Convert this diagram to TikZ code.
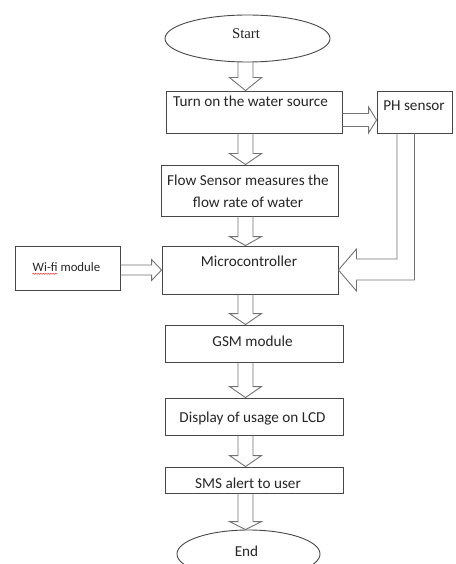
\documentclass[tikz,border=0pt]{standalone}
\usepackage{fontspec}
\setmainfont{Carlito}
\newfontfamily\serifface{Liberation Serif}
\usetikzlibrary{shapes.geometric,calc,decorations.pathmorphing}

% downward block arrow between two nodes, along the x of coordinate (ax)
% #1 = head length, #2 = source node, #3 = target node
\newcommand\downblock[3][11]{%
  \draw[blk] ($(#2.south -| ax)+(-7.5,0)$) -- ($(#3.north -| ax)+(-7.5,-#1)$)
    -- ($(#3.north -| ax)+(-16,-#1)$) -- (#3.north -| ax)
    -- ($(#3.north -| ax)+(16,-#1)$) -- ($(#3.north -| ax)+(7.5,-#1)$)
    -- ($(#2.south -| ax)+(7.5,0)$);}

\begin{document}
\begin{tikzpicture}[x=1pt,y=-1pt,
  box/.style={draw=black!72, line width=0.9pt, rectangle, inner sep=0},
  oval/.style={draw=black!72, line width=0.9pt, ellipse, inner sep=0},
  lbl/.style={anchor=base, inner sep=0, font=\fontsize{15.2}{18}\selectfont, text=black!85},
  blk/.style={draw=black!55, line width=0.9pt, line join=miter}]
\clip (0,0) rectangle (455,564);
\fill[white] (0,0) rectangle (455,564);

% axis of the main column of arrows
\coordinate (ax) at (245.5,0);
\coordinate (phy) at (0,120);
\coordinate (wfy) at (0,270);

% shapes
\node[oval, minimum width=165, minimum height=47] (start) at (247.5,38.5) {};
\node[box, minimum width=176, minimum height=42] (turn) at (254,112) {};
\node[box, minimum width=75, minimum height=42] (ph) at (414.5,112) {};
\node[box, minimum width=177, minimum height=51] (flow) at (249.5,190.5) {};
\node[box, minimum width=176, minimum height=48] (micro) at (250,270) {};
\node[box, minimum width=105, minimum height=44] (wifi) at (67.5,268) {};
\node[box, minimum width=178, minimum height=37] (gsm) at (254,343.5) {};
\node[box, minimum width=178, minimum height=37] (lcd) at (254,416.5) {};
\node[box, minimum width=178, minimum height=26] (sms) at (254,480) {};
\node[oval, minimum width=143, minimum height=48] (end) at (248.5,554) {};

% texts
\node[lbl, font=\serifface\fontsize{14.8}{17}\selectfont] (startT) at (246,39) {Start};
\node[lbl] (turnT) at (250.5,107) {Turn on the water source};
\node[lbl] (phT) at (414,111) {PH sensor};
\node[lbl] (flowT1) at (248,185) {Flow Sensor measures the};
\node[lbl] (flowT2) at (248,207) {flow rate of water};
\node[lbl] (microT) at (249,266) {Microcontroller};
\node[lbl, font=\fontsize{12.8}{15}\selectfont] (wifiT) at (66.5,271) {Wi-fi module};
\node[lbl] (gsmT) at (252.5,346) {GSM module};
\node[lbl] (lcdT) at (252.5,422) {Display of usage on LCD};
\node[lbl] (smsT) at (248,488) {SMS alert to user};
\node[lbl] (endT) at (246.5,556) {End};

% spelling mark under "Wi-fi"
\draw[red!85, line width=0.5pt, decorate, decoration={snake, amplitude=0.6pt, segment length=2.5pt}]
  ($(wifiT.base west)+(0,2.8)$) -- ++(25,0);

% main column of block arrows
\downblock[13]{start}{turn}
\downblock{turn}{flow}
\downblock[9]{flow}{micro}
\downblock{micro}{gsm}
\downblock{gsm}{lcd}
\downblock{lcd}{sms}
\downblock[8]{sms}{end}

% water source -> PH sensor
\draw[blk] ($(turn.east |- phy)+(0,-6.5)$) -- ($(ph.west |- phy)+(-8,-6.5)$)
  -- ($(ph.west |- phy)+(-8,-13)$) -- (ph.west |- phy)
  -- ($(ph.west |- phy)+(-8,13)$) -- ($(ph.west |- phy)+(-8,6.5)$)
  -- ($(turn.east |- phy)+(0,6.5)$);

% Wi-fi module -> microcontroller
\draw[blk] ($(wifi.east |- wfy)+(0,-5)$) -- ($(micro.west |- wfy)+(-10,-5)$)
  -- ($(micro.west |- wfy)+(-10,-10.5)$) -- (micro.west |- wfy)
  -- ($(micro.west |- wfy)+(-10,10.5)$) -- ($(micro.west |- wfy)+(-10,5)$)
  -- ($(wifi.east |- wfy)+(0,5)$);

% PH sensor -> microcontroller
\draw[blk] ($(ph.south)+(-17.5,0)$) |- ($(micro.east)+(18,-11)$)
  -- ($(micro.east)+(18,-21)$) -- (micro.east)
  -- ($(micro.east)+(18,21)$) -- ($(micro.east)+(18,10)$) -| (ph.south);
\end{tikzpicture}
\end{document}
